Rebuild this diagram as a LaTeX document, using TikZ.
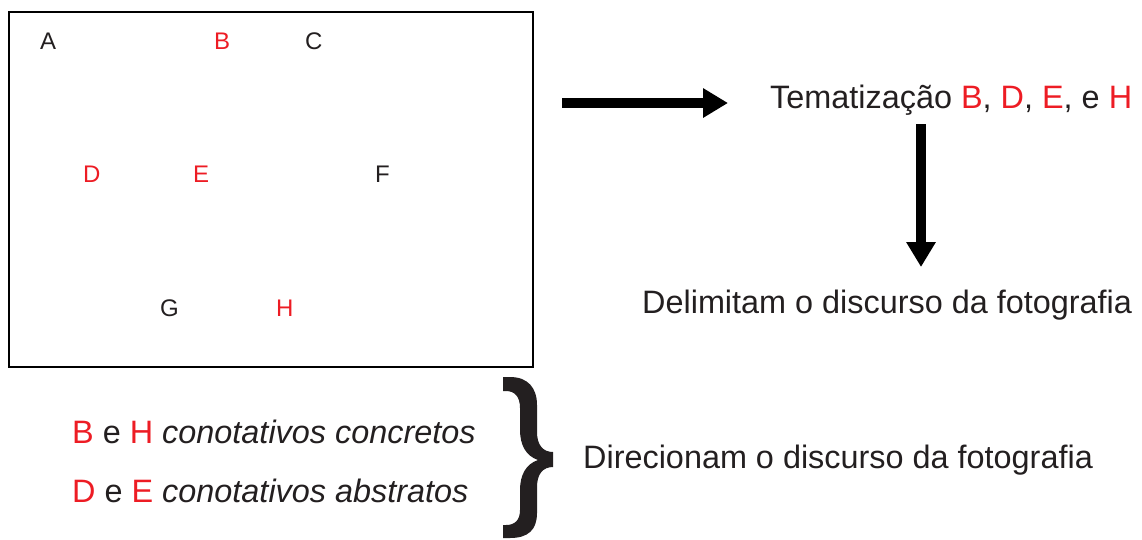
\documentclass[tikz,border=0pt]{standalone}
\usepackage{fontspec}
\setmainfont{Liberation Sans}
\usetikzlibrary{arrows.meta}
\definecolor{ink}{HTML}{231F20}
\definecolor{hl}{HTML}{ED1C24}
\tikzset{
  letter/.style={anchor=base west, inner sep=0pt, text=ink, font=\fontsize{24}{28}\selectfont},
  redletter/.style={letter, text=hl},
  bigtext/.style={anchor=base west, inner sep=0pt, text=ink, font=\fontsize{32.4}{38}\selectfont},
  bigarrow/.style={draw=black, line width=10pt, -{Triangle[width=28pt,length=25pt]}},
}
\newcommand{\rd}[1]{\textcolor{hl}{#1}}
\begin{document}
\begin{tikzpicture}[x=1pt,y=-1pt]
\useasboundingbox (0,0) rectangle (1142,539);
\node[draw=black, line width=2pt, minimum width=524pt, minimum height=355pt, inner sep=0pt, anchor=north west] (box) at (8,11) {};
% letters in the box
\node[letter] (A) at (40,49) {A};
\node[redletter] (B) at (214,49) {B};
\node[letter] (C) at (305,49) {C};
\node[redletter] (D) at (83,182) {D};
\node[redletter] (E) at (193,182) {E};
\node[letter] (F) at (375,182) {F};
\node[letter] (G) at (160,316) {G};
\node[redletter] (H) at (276,316) {H};
% right texts
\node[bigtext] (tema) at (770,108) {Tematização \rd{B}, \rd{D}, \rd{E}, e \rd{H}};
\node[bigtext] (delim) at (642,313) {Delimitam o discurso da fotografia};
\node[bigtext] (direc) at (583,468) {Direcionam o discurso da fotografia};
% left texts
\node[bigtext] (l1) at (72,443) {\rd{B} e \rd{H} \textit{conotativos concretos}};
\node[bigtext] (l2) at (72,502) {\rd{D} e \rd{E} \textit{conotativos abstratos}};
% arrows
\coordinate (a1s) at (562,103);
\coordinate (a1e) at (728,103);
\coordinate (a2s) at (921,124);
\coordinate (a2e) at (921,267);
\draw[bigarrow] (a1s) -- (a1e);
\draw[bigarrow] (a2s) -- (a2e);
% brace
\fill[ink] (503,377) -- (510,377) .. controls (528,377) and (537,388) .. (537,405) -- (537,432)
  .. controls (537,445) and (543,452) .. (553,452) -- (553,467)
  .. controls (543,467) and (537,474) .. (537,487) -- (537,513)
  .. controls (537,530) and (528,538) .. (510,538) -- (503,538) -- (503,525) -- (506,525)
  .. controls (515,525) and (520,520) .. (520,510) -- (520,490)
  .. controls (520,475) and (526,464) .. (538,460)
  .. controls (526,456) and (520,445) .. (520,430) -- (520,408)
  .. controls (520,397) and (515,391) .. (506,391) -- (503,391) -- cycle;
\end{tikzpicture}
\end{document}
